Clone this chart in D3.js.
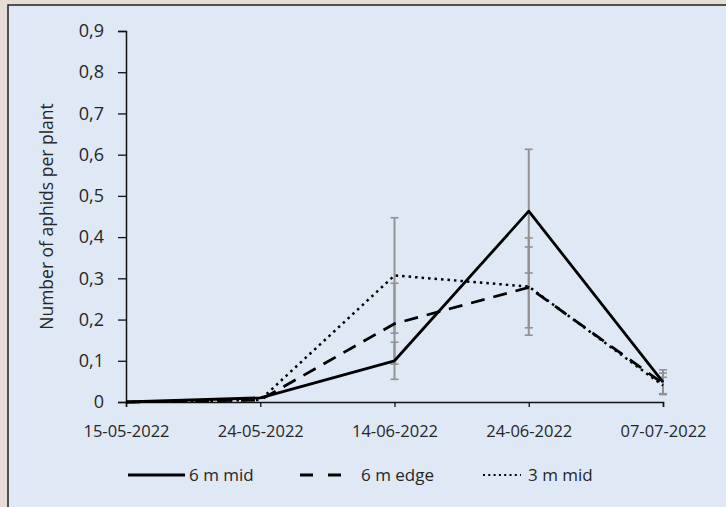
<!DOCTYPE html>
<html>
<head>
<meta charset="utf-8">
<script src="https://cdn.jsdelivr.net/npm/d3@7"></script>
<style>
  html, body { margin: 0; padding: 0; background: #e6ded6; }
  svg { display: block; }
</style>
</head>
<body>
<svg id="theSvg" width="726" height="507"></svg>
<script>
// sampling dates (categorical axis)
const dates = ["15-05-2022", "24-05-2022", "14-06-2022", "24-06-2022", "07-07-2022"];
const yTicks = [0, 0.1, 0.2, 0.3, 0.4, 0.5, 0.6, 0.7, 0.8, 0.9];

// mean aphids per plant, and error (+/-)
const mid6 = [0, 0.01, 0.10, 0.463, 0.048];
const mid6Err = [0, 0, 0.045, 0.15, 0.03];
const edge6 = [0, 0.005, 0.19, 0.278, 0.045];
const edge6Err = [0, 0, 0.098, 0.098, 0.025];
const mid3 = [0, 0.005, 0.307, 0.28, 0.04];
const mid3Err = [0, 0, 0.14, 0.118, 0.02];

const seriesNames = ["6 m mid", "6 m edge", "3 m mid"];

const width = 726, height = 507;
const margin = {top: 31, right: 63, bottom: 105, left: 126};
const font = "'Open Sans', sans-serif";

const svg = d3.select("#theSvg");

// panel
svg.append("rect")
  .attr("x", 8).attr("y", 5)
  .attr("width", width).attr("height", height)
  .attr("fill", "#dfe9f5")
  .attr("stroke", "#222").attr("stroke-width", 1.5);

const x = d3.scalePoint()
  .domain(dates)
  .range([margin.left, width - margin.right]);

const y = d3.scaleLinear()
  .domain([0, 0.9])
  .range([height - margin.bottom, margin.top]);

const fmt = d => d === 0 ? "0" : d3.format(".1f")(d).replace(".", ",");

// y axis
const yAxis = svg.append("g")
  .attr("transform", "translate(" + margin.left + ",0)")
  .call(d3.axisLeft(y).tickValues(yTicks).tickFormat(fmt).tickSizeOuter(0).tickSize(8).tickPadding(14));
yAxis.select(".domain").attr("stroke", "#111").attr("stroke-width", 1.5);
yAxis.selectAll(".tick line").attr("stroke", "#111").attr("stroke-width", 1.3);
yAxis.selectAll("text").attr("font-family", font).attr("font-size", 18).attr("fill", "#262626");

// x axis
const xAxis = svg.append("g")
  .attr("transform", "translate(0," + y(0) + ")")
  .call(d3.axisBottom(x).tickSizeOuter(0).tickSize(5).tickPadding(18));
xAxis.select(".domain").attr("stroke", "#111").attr("stroke-width", 1.5);
xAxis.selectAll(".tick line").attr("stroke", "#111").attr("stroke-width", 1.3);
xAxis.selectAll("text").attr("font-family", font).attr("font-size", 16.5).attr("fill", "#262626");

// y axis title
svg.append("text")
  .attr("transform", "translate(47," + ((y(0) + y(0.9)) / 2) + ") rotate(-90)")
  .attr("text-anchor", "middle")
  .attr("dy", "0.35em")
  .attr("font-family", font)
  .attr("font-size", 17.5)
  .attr("fill", "#262626")
  .text("Number of aphids per plant");

const series = [
  {name: seriesNames[0], values: mid6, err: mid6Err, dash: null, width: 2.8},
  {name: seriesNames[1], values: edge6, err: edge6Err, dash: "14,9", width: 2.8},
  {name: seriesNames[2], values: mid3, err: mid3Err, dash: "2.5,4", width: 2.5}
];

// error bars
const errG = svg.append("g").attr("stroke", "#929292");
series.forEach(s => {
  s.values.forEach((v, i) => {
    const e = s.err[i];
    if (!e) return;
    const cx = x(dates[i]);
    errG.append("line")
      .attr("x1", cx).attr("x2", cx)
      .attr("y1", y(v + e)).attr("y2", y(Math.max(0, v - e)))
      .attr("stroke-width", 2);
    [v + e, Math.max(0, v - e)].forEach(t => {
      errG.append("line")
        .attr("x1", cx - 4).attr("x2", cx + 4)
        .attr("y1", y(t)).attr("y2", y(t))
        .attr("stroke-width", 1.6);
    });
  });
});

const line = d3.line()
  .x((d, i) => x(dates[i]))
  .y(d => y(d));

svg.append("g").selectAll("path")
  .data(series)
  .join("path")
  .attr("fill", "none")
  .attr("stroke", "#000")
  .attr("stroke-width", d => d.width)
  .attr("stroke-dasharray", d => d.dash)
  .attr("stroke-linejoin", "round")
  .attr("d", d => line(d.values));

// legend
const legendY = 475;
const legendItems = [
  {x1: 128, x2: 185, tx: 189},
  {x1: 300, x2: 342, tx: 361},
  {x1: 483, x2: 521, tx: 528}
];
const legend = svg.append("g");
series.forEach((s, i) => {
  const it = legendItems[i];
  legend.append("line")
    .attr("x1", it.x1).attr("x2", it.x2)
    .attr("y1", legendY).attr("y2", legendY)
    .attr("stroke", "#000")
    .attr("stroke-width", i === 2 ? 2 : 2.8)
    .attr("stroke-dasharray", i === 1 ? "13,15" : (i === 2 ? "2,3.3" : null));
  legend.append("text")
    .attr("x", it.tx).attr("y", legendY)
    .attr("dy", "0.35em")
    .attr("font-family", font)
    .attr("font-size", 17)
    .attr("fill", "#262626")
    .text(s.name);
});
</script>
</body>
</html>
